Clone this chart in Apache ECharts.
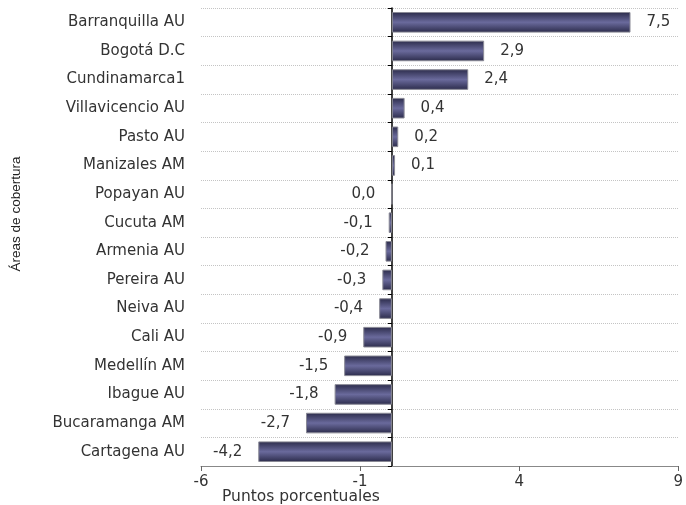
<!DOCTYPE html>
<html>
<head>
<meta charset="utf-8">
<script src="https://cdn.jsdelivr.net/npm/echarts@6/dist/echarts.min.js"></script>
<style>html,body{margin:0;padding:0;background:#fff}#c{width:686px;height:505px}</style>
</head>
<body>
<div id="c"></div>
<script>
var categories = ["Barranquilla AU","Bogotá D.C","Cundinamarca1","Villavicencio AU","Pasto AU","Manizales AM","Popayan AU","Cucuta AM","Armenia AU","Pereira AU","Neiva AU","Cali AU","Medellín AM","Ibague AU","Bucaramanga AM","Cartagena AU"];
var values = [7.5, 2.9, 2.4, 0.4, 0.2, 0.1, 0.0, -0.1, -0.2, -0.3, -0.4, -0.9, -1.5, -1.8, -2.7, -4.2];
var xTicks = [-6, -1, 4, 9];
var xAxisName = "Puntos porcentuales";
var yAxisName = "Áreas de cobertura";

var font = "'DejaVu Sans', 'Liberation Sans', sans-serif";
var chart = echarts.init(document.getElementById('c'));
var data = values.map(function (v) {
  return { value: v, label: { position: v > 0 ? 'right' : 'left' } };
});
chart.setOption({
  animation: false,
  grid: { left: 201, right: 6, top: 8, bottom: 38 },
  xAxis: {
    type: 'value', min: xTicks[0], max: xTicks[xTicks.length - 1], interval: xTicks[1] - xTicks[0],
    axisLine: { show: true, onZero: false, lineStyle: { color: '#888', width: 1 } },
    axisTick: { show: true, length: 5, lineStyle: { color: '#666' } },
    splitLine: { show: false },
    axisLabel: { color: '#333', fontFamily: font, fontSize: 15, margin: 9 },
    name: xAxisName, nameLocation: 'start', nameGap: 0, nameMoveOverlap: false,
    nameTextStyle: { color: '#333', fontFamily: font, fontSize: 15.5, align: 'left', verticalAlign: 'top', padding: [23, 0, 0, 21] }
  },
  yAxis: [{
    type: 'category', data: categories, inverse: true, position: 'left',
    axisLine: { show: false, onZero: false }, axisTick: { show: false },
    splitLine: { show: true, lineStyle: { color: '#c4c4c4', type: 'dotted', width: 1 } },
    axisLabel: { color: '#333', fontFamily: font, fontSize: 15, margin: 16 },
    name: yAxisName, nameLocation: 'middle', nameGap: 178, nameRotate: 90, nameMoveOverlap: false,
    nameTextStyle: { color: '#222', fontFamily: "'Liberation Sans Narrow', 'Liberation Sans', sans-serif", fontSize: 13.5, padding: [0, 0, 0, 46] }
  }, {
    type: 'category', data: categories, inverse: true, position: 'left',
    axisLine: { show: true, onZero: true, lineStyle: { color: '#000', width: 1.5 } },
    axisTick: { show: true, length: 4, inside: false, lineStyle: { color: '#000' } },
    axisLabel: { show: false }, splitLine: { show: false }
  }],
  series: [{
    type: 'bar', data: data, yAxisIndex: 0, barWidth: '72%',
    itemStyle: {
      color: new echarts.graphic.LinearGradient(0, 0, 0, 1, [
        { offset: 0, color: '#2b2b4a' },
        { offset: 0.5, color: '#6a6a9c' },
        { offset: 1, color: '#2b2b4a' }
      ]),
      borderColor: '#8a8a96', borderWidth: 1
    },
    label: {
      show: true, distance: 16, color: '#333', fontFamily: font, fontSize: 15,
      formatter: function (p) { return p.value.toFixed(1).replace('.', ','); }
    }
  }]
});
</script>
</body>
</html>
